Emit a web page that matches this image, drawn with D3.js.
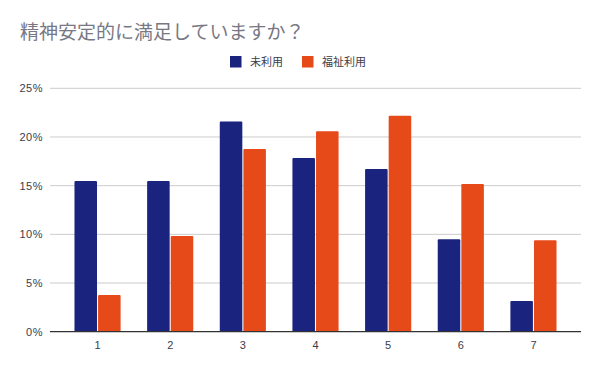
<!DOCTYPE html>
<html>
<head>
<meta charset="utf-8">
<script src="https://cdn.jsdelivr.net/npm/d3@7"></script>
<style>
  body { margin: 0; background: #fff; }
  text { font-family: "Noto Sans CJK JP", "Liberation Sans", Arial, sans-serif; }
  .num { font-family: "Liberation Sans", Arial, sans-serif; }
</style>
</head>
<body>
<div id="chart"></div>
<script>
// chart data
var categories = ["1", "2", "3", "4", "5", "6", "7"];
var seriesNames = ["未利用", "福祉利用"];
var unused = [0.1547, 0.1547, 0.216, 0.1783, 0.167, 0.095, 0.0315];
var welfare = [0.0377, 0.0982, 0.1876, 0.206, 0.2218, 0.1516, 0.094];
var yTicks = [0, 0.05, 0.1, 0.15, 0.2, 0.25];
var colors = ["#1a237e", "#e64a19"];

var W = 600, H = 371;
var svg = d3.select("#chart").append("svg")
  .attr("width", W)
  .attr("height", H);

// title
svg.append("text")
  .attr("x", 20)
  .attr("y", 39)
  .attr("fill", "#787884")
  .style("font-size", "19px")
  .text("精神安定的に満足していますか？");

// legend
var legendX = [230, 302];
seriesNames.forEach(function (name, i) {
  svg.append("rect")
    .attr("x", legendX[i])
    .attr("y", 56)
    .attr("width", 11.5)
    .attr("height", 11.5)
    .attr("fill", colors[i]);
  svg.append("text")
    .attr("x", legendX[i] + 20)
    .attr("y", 66)
    .attr("fill", "#3c3c4a")
    .style("font-size", "11px")
    .text(name);
});

// scales
var yScale = d3.scaleLinear().domain([0, 0.25]).range([331.7, 88.3]);
var xScale = d3.scaleBand().domain(categories).range([61.4, 569.6]).paddingInner(0.365).paddingOuter(0.18);
var xSub = d3.scaleBand().domain([0, 1]).range([0, xScale.bandwidth()]).paddingInner(0.045);

// gridlines
svg.append("g")
  .selectAll("line")
  .data(yTicks.slice(1))
  .enter().append("line")
  .attr("x1", 50)
  .attr("x2", 581)
  .attr("y1", function (d) { return yScale(d); })
  .attr("y2", function (d) { return yScale(d); })
  .attr("stroke", "#cccccc")
  .attr("stroke-width", 1);

// y tick labels
svg.append("g")
  .selectAll("text")
  .data(yTicks)
  .enter().append("text")
  .attr("class", "num")
  .attr("x", 43)
  .attr("y", function (d) { return yScale(d) + 4; })
  .attr("text-anchor", "end")
  .attr("fill", "#3c3c4a")
  .style("font-size", "11px")
  .style("letter-spacing", "0.5px")
  .text(function (d) { return Math.round(d * 100) + "%"; });

// bars
var groups = svg.append("g")
  .selectAll("g")
  .data(categories)
  .enter().append("g")
  .attr("transform", function (d) { return "translate(" + xScale(d) + ",0)"; });

groups.selectAll("rect")
  .data(function (d, i) { return [unused[i], welfare[i]]; })
  .enter().append("rect")
  .attr("x", function (d, j) { return xSub(j); })
  .attr("y", function (d) { return yScale(d); })
  .attr("width", xSub.bandwidth())
  .attr("height", function (d) { return yScale(0) - yScale(d); })
  .attr("rx", 1)
  .attr("fill", function (d, j) { return colors[j]; });

// baseline
svg.append("line")
  .attr("x1", 50)
  .attr("x2", 581)
  .attr("y1", yScale(0))
  .attr("y2", yScale(0))
  .attr("stroke", "#333")
  .attr("stroke-width", 1.2);

// x labels
svg.append("g")
  .selectAll("text")
  .data(categories)
  .enter().append("text")
  .attr("class", "num")
  .attr("x", function (d) { return xScale(d) + xScale.bandwidth() / 2; })
  .attr("y", 349)
  .attr("text-anchor", "middle")
  .attr("fill", "#3c3c4a")
  .style("font-size", "11px")
  .text(function (d) { return d; });
</script>
</body>
</html>
